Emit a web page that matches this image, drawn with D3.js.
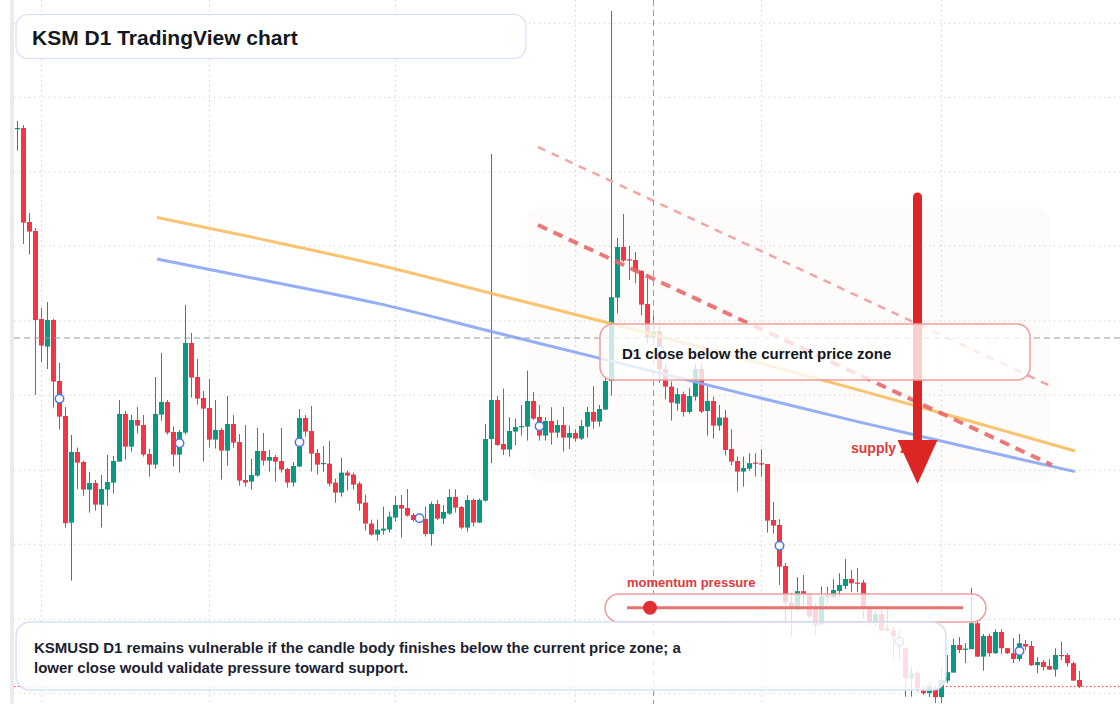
<!DOCTYPE html>
<html><head><meta charset="utf-8">
<script src="https://cdn.jsdelivr.net/npm/d3@7"></script>
<style>
html,body{margin:0;padding:0;background:#fff;overflow:hidden}
svg{display:block;font-family:"Liberation Sans",Arial,Helvetica,sans-serif}
</style>
</head><body>
<svg id="chart" width="1120" height="704"></svg>
<script>
// ---------- DATA ----------
const startDate = "2025-01-28";
const endDate = "2025-07-24";

const open = [43.56,43.60,38.90,38.45,34.05,32.67,34.00,30.95,29.20,23.87,
27.40,26.90,25.52,25.85,24.77,25.52,25.87,26.92,29.30,27.67,
29.00,28.75,27.30,26.77,29.27,29.90,28.40,27.27,28.37,32.85,
31.15,30.10,29.60,28.02,28.50,27.47,28.80,27.90,26.00,25.92,
26.22,27.45,26.97,27.15,26.95,26.55,25.87,26.67,29.10,28.45,
27.35,26.79,26.82,25.87,25.37,26.37,26.27,25.82,24.87,23.82,
23.27,23.47,23.52,24.12,24.75,24.60,24.25,24.17,24.05,23.30,
24.80,24.07,24.32,25.15,24.65,23.62,25.00,23.87,24.97,28.05,
30.00,27.80,27.52,28.42,28.67,28.67,29.95,29.15,28.22,28.95,
28.37,28.75,28.12,28.35,28.07,28.67,29.40,28.92,29.52,30.95,
35.12,37.65,37.03,37.00,36.45,34.80,33.14,33.45,31.54,30.67,
29.82,30.29,29.40,30.17,31.55,29.45,29.95,28.72,29.12,27.55,
26.95,26.42,26.57,26.87,26.84,26.80,24.00,23.75,21.70,19.87,
19.54,20.44,20.29,19.67,18.79,20.24,20.14,20.45,20.70,21.05,
20.87,20.87,19.67,18.95,19.30,18.59,18.47,18.17,17.59,16.09,
16.34,15.50,15.34,15.50,15.14,15.97,16.37,17.75,17.54,17.54,
18.84,17.17,18.20,17.34,18.40,17.59,17.34,17.05,17.80,17.70,
16.74,16.90,16.70,16.52,17.25,17.25,16.84,16.00];

const high = [43.95,43.75,39.35,38.60,34.60,34.90,34.05,31.85,29.65,28.25,
27.62,26.97,26.40,26.00,26.25,27.25,27.20,30.00,29.45,29.25,
29.65,29.25,27.55,31.15,32.35,30.00,28.67,28.50,34.75,33.35,
32.05,30.45,31.05,30.00,28.60,30.20,29.25,28.30,28.75,27.05,
28.60,28.35,27.50,27.25,28.60,26.60,26.90,29.55,29.25,29.70,
27.55,27.70,27.95,26.07,27.12,26.47,26.37,25.92,25.27,24.02,
24.02,24.67,24.42,25.20,25.25,25.55,24.35,24.30,24.67,24.92,
25.00,24.75,25.54,25.54,24.70,25.24,25.07,25.07,28.80,42.30,
30.20,30.57,29.14,29.07,29.75,31.47,30.40,29.75,29.14,29.64,
29.00,29.65,28.72,28.54,29.00,29.65,30.70,29.75,31.12,49.45,
38.10,39.30,37.70,37.40,36.50,36.30,34.25,33.75,31.84,30.92,
30.59,30.42,30.59,31.84,31.84,30.67,30.17,29.75,29.50,28.54,
27.17,27.17,27.34,27.34,27.54,26.80,24.89,24.04,21.84,20.35,
21.14,21.25,20.35,19.84,20.67,20.67,21.04,21.34,22.05,21.50,
21.59,21.00,19.67,19.50,19.67,19.59,18.67,18.50,17.60,16.67,
16.50,15.67,15.87,15.67,16.67,17.25,18.07,18.15,17.84,20.59,
19.00,18.30,18.30,18.54,18.54,17.60,18.09,18.30,18.00,17.95,
17.14,17.00,17.04,17.59,17.92,17.34,16.92,16.45];

const low = [42.47,37.80,37.27,30.25,31.89,31.55,29.62,28.52,23.62,20.97,
25.54,25.22,24.37,24.47,23.62,24.72,25.32,26.92,27.02,27.42,
28.32,27.17,26.17,26.57,28.97,28.27,26.67,26.37,28.27,30.12,
29.77,26.92,27.62,27.57,26.02,26.72,27.62,25.72,25.67,25.52,
26.17,26.72,26.42,25.92,26.37,25.62,25.67,26.67,28.17,26.42,
26.27,26.42,25.67,24.87,25.17,25.47,25.52,24.47,23.47,23.22,
22.97,23.27,23.37,23.92,23.12,24.17,23.92,23.85,23.17,22.72,
24.00,23.80,24.25,24.37,23.55,23.42,23.67,23.84,24.92,26.84,
27.70,27.25,27.17,27.75,28.22,27.97,29.00,27.97,27.97,27.77,
28.12,27.42,27.55,27.92,28.00,28.12,28.57,28.67,29.50,30.22,
34.34,36.90,36.00,35.84,34.24,32.84,32.84,30.87,30.04,28.97,
29.47,29.17,29.32,29.97,29.34,28.22,28.07,28.47,27.22,26.72,
25.42,25.67,26.47,26.17,26.17,23.37,23.32,20.75,18.84,18.15,
19.45,19.54,19.15,18.25,18.75,19.84,20.10,20.15,20.54,20.39,
20.39,19.05,18.73,18.67,18.43,18.43,17.09,17.00,15.17,15.17,
15.42,15.25,15.15,14.84,14.84,15.84,16.37,17.35,16.84,17.54,
17.15,16.47,17.17,17.30,17.30,17.30,16.84,16.92,17.50,16.70,
16.34,16.47,16.50,16.17,17.00,16.67,15.97,15.59];

const close = [43.60,38.87,38.42,34.00,32.72,34.00,30.92,29.17,23.84,27.40,
26.87,25.52,25.85,24.77,25.55,25.90,26.95,29.30,27.67,29.00,
28.72,27.27,26.77,29.30,29.90,28.37,27.27,28.40,32.85,31.12,
30.07,29.57,28.02,28.50,27.47,28.80,27.87,25.97,25.87,26.25,
27.45,26.97,27.15,26.92,26.52,25.87,26.70,29.10,28.42,27.32,
26.77,26.85,25.82,25.37,26.37,26.22,25.77,24.82,23.82,23.27,
23.52,23.57,24.17,24.75,24.57,24.22,24.00,24.00,23.30,24.80,
24.07,24.40,25.15,24.62,23.62,25.00,23.87,25.00,28.05,30.00,
27.75,27.52,28.45,28.65,28.70,29.95,29.07,28.22,28.95,28.37,
28.75,28.12,28.35,28.07,28.70,29.40,28.92,29.55,30.95,35.14,
37.65,36.97,36.98,36.42,34.77,33.14,33.42,31.54,30.67,29.87,
30.29,29.40,30.20,31.55,29.42,29.95,28.72,29.12,27.50,26.92,
26.42,26.60,26.84,26.82,26.77,23.97,23.72,21.67,19.87,19.54,
20.44,20.29,19.17,18.74,20.19,20.14,20.50,20.75,21.05,20.84,
20.82,19.54,18.92,19.30,18.47,18.47,18.17,17.67,16.09,16.34,
15.59,15.34,15.69,15.14,16.00,16.39,17.75,17.50,17.57,18.84,
17.17,18.20,17.34,18.40,17.59,17.34,17.05,17.84,17.67,16.74,
16.90,16.65,16.52,17.25,17.20,16.84,15.97,15.67];

// horizontal price grid levels (unlabelled in the reference)
const gridLevels = [15.335, 19.035, 22.785, 26.485, 30.235, 33.95, 37.7, 41.4, 45.135, 48.835];

// moving-average overlays (day index -> value)
const maDays = [23.25, 40, 60, 80, 100, 120, 140, 160, 176.25];
const maOrange = [39.13, 38.08, 36.76, 35.25, 33.74, 32.14, 30.52, 28.84, 27.45];
const maBlue = [37.05, 36.05, 34.83, 33.35, 31.87, 30.38, 28.92, 27.53, 26.42];

// descending trend channel
const trendDays = [86.75, 172.4];
const trendUpper = [42.65, 30.67];
const trendLower = [38.75, 26.75];

// supply zone (day range, price range)
const zoneDays = [84.9, 172.1];
const zonePrices = [39.65, 25.9];

// signal markers (every 20th session)
const markerDays = [7, 27, 47, 67, 87, 107, 127, 147, 167];

// crosshair
const crossDay = 106, crossPrice = 33.1;

// downward arrow
const arrowDay = 150, arrowPrices = [40.15, 25.8];

// ---------- CHART ----------
const W = 1120, H = 704;
const svg = d3.select("#chart");
const parse = d3.utcParse("%Y-%m-%d");
const t0 = parse(startDate), t1 = parse(endDate);
const dates = d3.utcDay.range(t0, d3.utcDay.offset(t1, 1));

const x = d3.scaleUtc().domain([t0, t1]).range([17.5, 1079.5]);
const y = d3.scaleLinear().domain([14.8, 50]).range([H, 0]);
const xAt = d => x(new Date(t0.getTime() + d * 864e5));

const UP = "#089981", DOWN = "#f23645";
const candles = dates.map((d, i) => ({d, i, o: open[i], h: high[i], l: low[i], c: close[i]}));

// left scale strip
svg.append("rect").attr("x", 10).attr("y", 0).attr("width", 4).attr("height", H).attr("fill", "#ebebeb");

// grid
const grid = svg.append("g").attr("stroke", "#d3d5da").attr("stroke-width", 1.1).attr("stroke-dasharray", "1.4 3.6");
grid.selectAll("line.h").data(gridLevels).join("line")
  .attr("x1", 14).attr("x2", W).attr("y1", d => y(d)).attr("y2", d => y(d));
grid.selectAll("line.v").data(x.ticks(d3.utcMonth.every(1))).join("line")
  .attr("x1", d => x(d)).attr("x2", d => x(d)).attr("y1", 0).attr("y2", H);

// supply zone
svg.append("rect")
  .attr("x", xAt(zoneDays[0])).attr("y", y(zonePrices[0]))
  .attr("width", xAt(zoneDays[1]) - xAt(zoneDays[0]))
  .attr("height", y(zonePrices[1]) - y(zonePrices[0]))
  .attr("rx", 14).attr("fill", "rgba(240,190,150,0.05)");

// candles
const cg = svg.append("g");
cg.selectAll("line").data(candles).join("line")
  .attr("x1", d => x(d.d)).attr("x2", d => x(d.d))
  .attr("y1", d => y(d.h)).attr("y2", d => y(d.l))
  .attr("stroke", d => d.c >= d.o ? UP : DOWN).attr("stroke-width", 1);
cg.selectAll("rect").data(candles).join("rect")
  .attr("x", d => x(d.d) - 2.5).attr("width", 5)
  .attr("y", d => y(Math.max(d.o, d.c)))
  .attr("height", d => Math.max(1.2, Math.abs(y(d.o) - y(d.c))))
  .attr("fill", d => d.c >= d.o ? UP : DOWN);

// moving averages
const maLine = d3.line().x(d => xAt(d[0])).y(d => y(d[1])).curve(d3.curveMonotoneX);
svg.append("path").datum(maDays.map((d, i) => [d, maOrange[i]]))
  .attr("d", maLine).attr("fill", "none").attr("stroke", "#f8bd62").attr("stroke-width", 3).attr("stroke-opacity", 0.9);
svg.append("path").datum(maDays.map((d, i) => [d, maBlue[i]]))
  .attr("d", maLine).attr("fill", "none").attr("stroke", "#8eabf6").attr("stroke-width", 3).attr("stroke-opacity", 0.95);

// trend channel
const tLine = d3.line().x(d => xAt(d[0])).y(d => y(d[1]));
svg.append("path").datum(trendDays.map((d, i) => [d, trendUpper[i]]))
  .attr("d", tLine).attr("stroke", "#f3a5a5").attr("stroke-width", 2.5).attr("stroke-dasharray", "8 7").attr("fill", "none");
svg.append("path").datum(trendDays.map((d, i) => [d, trendLower[i]]))
  .attr("d", tLine).attr("stroke", "#e8686a").attr("stroke-width", 4).attr("stroke-dasharray", "10 7").attr("stroke-opacity", 0.9).attr("fill", "none");

// crosshair
const ch = svg.append("g").attr("stroke", "#9a9ca3").attr("stroke-width", 1).attr("stroke-dasharray", "6 4");
ch.append("line").attr("x1", 14).attr("x2", W).attr("y1", y(crossPrice)).attr("y2", y(crossPrice));
ch.append("line").attr("x1", xAt(crossDay)).attr("x2", xAt(crossDay)).attr("y1", 0).attr("y2", H);

// last price line
svg.append("line").attr("x1", 14).attr("x2", W)
  .attr("y1", y(close[close.length - 1])).attr("y2", y(close[close.length - 1]))
  .attr("stroke", "#f23645").attr("stroke-width", 1).attr("stroke-dasharray", "1.5 2.5");

// markers
svg.selectAll("circle.mk").data(markerDays).join("circle").attr("class", "mk")
  .attr("cx", d => xAt(d)).attr("cy", d => y((open[d] + close[d]) / 2)).attr("r", 4.2)
  .attr("fill", "#fff").attr("stroke", "#4676ec").attr("stroke-width", 1.5);

// supply zone label (sits under the arrow head)
svg.append("text").attr("x", 851).attr("y", 453).attr("font-size", 14).attr("font-weight", 700)
  .attr("fill", "#e0393e").text("supply zone");

// arrow
const ax = xAt(arrowDay);
svg.append("line").attr("x1", ax).attr("x2", ax).attr("y1", y(arrowPrices[0])).attr("y2", y(arrowPrices[1]) - 40)
  .attr("stroke", "#dc2626").attr("stroke-width", 9).attr("stroke-linecap", "round");
svg.append("path").attr("d", `M${ax - 20},${y(arrowPrices[1]) - 44} L${ax + 20},${y(arrowPrices[1]) - 44} L${ax},${y(arrowPrices[1])} Z`)
  .attr("fill", "#dc2626");

// annotation box: D1 close
svg.append("rect").attr("x", 600).attr("y", 324).attr("width", 430).attr("height", 56).attr("rx", 13)
  .attr("fill", "rgba(255,255,255,0.78)").attr("stroke", "#ef9d9d").attr("stroke-width", 1.5);
svg.append("text").attr("x", 622).attr("y", 359).attr("font-size", 15).attr("font-weight", 700)
  .attr("fill", "#131722").text("D1 close below the current price zone");

// momentum pressure gauge
svg.append("text").attr("x", 627).attr("y", 587).attr("font-size", 13).attr("font-weight", 700)
  .attr("fill", "#e0393e").text("momentum pressure");
svg.append("rect").attr("x", 605).attr("y", 594).attr("width", 381).attr("height", 28).attr("rx", 14)
  .attr("fill", "rgba(255,255,255,0.78)").attr("stroke", "#ef9d9d").attr("stroke-width", 1.5);
svg.append("line").attr("x1", 627).attr("x2", 963).attr("y1", 607.7).attr("y2", 607.7)
  .attr("stroke", "#e77272").attr("stroke-width", 3);
svg.append("circle").attr("cx", 650).attr("cy", 607.7).attr("r", 7).attr("fill", "#e03131");

// bottom commentary box
svg.append("rect").attr("x", 16).attr("y", 622).attr("width", 930).attr("height", 68).attr("rx", 14)
  .attr("fill", "rgba(255,255,255,0.84)").attr("stroke", "#d3e2f8").attr("stroke-width", 1.5);
const bt = svg.append("text").attr("font-size", 15).attr("font-weight", 700).attr("fill", "#1c2230");
bt.append("tspan").attr("x", 34).attr("y", 652.5).text("KSMUSD D1 remains vulnerable if the candle body finishes below the current price zone; a");
bt.append("tspan").attr("x", 34).attr("y", 673).text("lower close would validate pressure toward support.");

// title box
svg.append("rect").attr("x", 16).attr("y", 14.5).attr("width", 510).attr("height", 44).attr("rx", 12)
  .attr("fill", "rgba(255,255,255,0.95)").attr("stroke", "#d3e2f8").attr("stroke-width", 1.2);
svg.append("text").attr("x", 32).attr("y", 44.5).attr("font-size", 21).attr("font-weight", 700)
  .attr("fill", "#131722").text("KSM D1 TradingView chart");
</script>
</body></html>
